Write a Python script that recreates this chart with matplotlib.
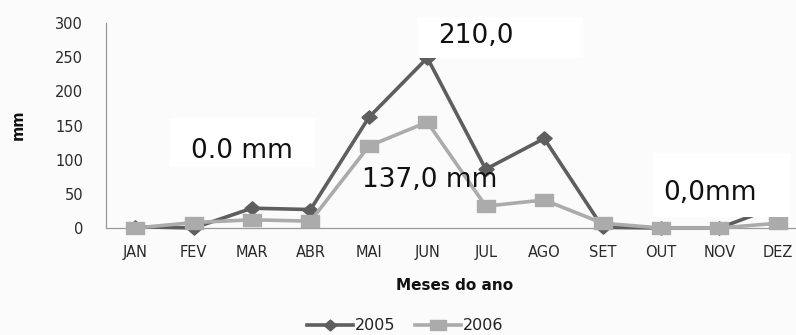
import numpy as np
import matplotlib
matplotlib.use("Agg")
import matplotlib.pyplot as plt
from matplotlib.patches import Rectangle
from matplotlib.lines import Line2D

# Monthly rainfall (mm)
months = ["JAN", "FEV", "MAR", "ABR", "MAI", "JUN", "JUL", "AGO", "SET", "OUT", "NOV", "DEZ"]
rain_2005 = [2, 0, 29, 27, 162, 249, 86, 131, 1, 0, 0, 32]
rain_2006 = [0, 8, 12, 10, 120, 155, 32, 41, 7, 0, 0, 7]
series_labels = ["2005", "2006"]
y_ticks = [0, 50, 100, 150, 200, 250, 300]

# Text notes drawn over the plot
notes = ["0.0 mm", "210,0", "137,0 mm", "0,0mm"]

dark = "#5e5e5e"
light = "#ababab"

# wide markers (rhombus and flat square)
diamond = [(-1.15, 0), (0, -1), (1.15, 0), (0, 1), (-1.15, 0)]
flat_square = [(-1.5, -1), (1.5, -1), (1.5, 1), (-1.5, 1), (-1.5, -1)]

fig = plt.figure(figsize=(7.96, 3.35), dpi=100, facecolor="#fbfbfb")
ax = fig.add_axes([0.1332, 0.3194, 0.8807, 0.6119])
ax.set_facecolor("none")

x = np.arange(len(months))
ax.plot(x, rain_2005, color=dark, lw=2.6, marker=diamond, ms=11,
        markerfacecolor=dark, markeredgecolor=dark, zorder=3, clip_on=False)
ax.plot(x, rain_2006, color=light, lw=2.6, marker=flat_square, ms=12.5,
        markerfacecolor=light, markeredgecolor=light, zorder=4, clip_on=False)

ax.set_xlim(-0.5, len(months) - 0.5)
ax.set_ylim(0, 300)
ax.set_yticks(y_ticks)
ax.set_xticks(x)
ax.set_xticklabels(months)
ax.tick_params(axis="both", length=0)
ax.tick_params(axis="y", pad=16.5, labelsize=10.5)
ax.tick_params(axis="x", pad=12, labelsize=10.5)
for lab in ax.get_xticklabels() + ax.get_yticklabels():
    lab.set_color("#2a2a2a")

for side in ("top", "right"):
    ax.spines[side].set_visible(False)
for side in ("left", "bottom"):
    ax.spines[side].set_color("#9a9a9a")
    ax.spines[side].set_linewidth(0.9)

# white note boxes (axes fraction coordinates)
boxes = [
    (0.0913, 0.298, 0.207, 0.239),
    (0.445, 0.829, 0.235, 0.200),
    (0.780, 0.054, 0.196, 0.312),
]
for bx, by, bw, bh in boxes:
    ax.add_patch(Rectangle((bx, by), bw, bh, transform=ax.transAxes,
                           facecolor="white", edgecolor="none",
                           zorder=5, clip_on=False))

note_pos = [(0.194, 0.341), (0.528, 0.902), (0.461, 0.200), (0.862, 0.137)]
for txt, (tx, ty) in zip(notes, note_pos):
    ax.text(tx, ty, txt, transform=ax.transAxes, ha="center", va="baseline",
            fontsize=19, color="#111111", zorder=6)

fig.text(18 / 796, 1 - 125 / 335, "mm", rotation=90, ha="center", va="center",
         fontsize=10.5, fontweight="bold", color="#111111")
fig.text(455 / 796, 1 - 285 / 335, "Meses do ano", ha="center", va="center",
         fontsize=11, fontweight="bold", color="#111111")

handles = [
    Line2D([], [], color=dark, lw=2.6, marker=diamond, ms=9,
           markerfacecolor=dark, markeredgecolor=dark),
    Line2D([], [], color=light, lw=2.6, marker=flat_square, ms=11,
           markerfacecolor=light, markeredgecolor=light),
]
fig.legend(handles, series_labels, loc="center", ncol=2,
           bbox_to_anchor=(405 / 796, 1 - 326 / 335), frameon=False,
           fontsize=11.5, handlelength=2.9, handletextpad=0.1,
           columnspacing=1.2, borderpad=0, labelcolor="#222222")

fig.savefig("out.png", dpi=100, facecolor=fig.get_facecolor())
